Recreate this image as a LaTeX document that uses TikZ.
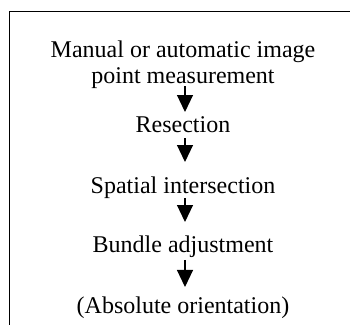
\documentclass[tikz,border=0pt]{standalone}
\usepackage{fontspec}
\setmainfont{Liberation Serif}
\usetikzlibrary{arrows.meta}
\tikzset{
  lbl/.style={inner sep=0pt, outer sep=0pt, anchor=base, font=\fontsize{12}{13}\selectfont, text height=8pt, text depth=2.5pt},
  lbltwo/.style={inner sep=0pt, outer sep=0pt, anchor=base, align=center, font=\fontsize{12}{13}\selectfont},
  arr/.style={line width=0.55pt, -{Triangle[width=8pt,length=8.5pt]}},
  frame/.style={line width=0.65pt}
}
\begin{document}
\begin{tikzpicture}[x=0.5pt,y=-0.5pt]
\useasboundingbox (0,0) rectangle (350,327);
\draw[frame] (9.5,325) -- (9.5,11.5) -- (350,11.5);
\node[lbltwo] (n1) at (183,83) {Manual or automatic image\\point measurement};
\node[lbl] (n2) at (183,133) {Resection};
\node[lbl] (n3) at (183,193) {Spatial intersection};
\node[lbl] (n4) at (183,253) {Bundle adjustment};
\node[lbl] (n5) at (183,314) {(Absolute orientation)};
\draw[arr, shorten <=-1pt, shorten >=2.5pt] ([xshift=1pt]n1.south) -- ([xshift=1pt]n2.north);
\draw[arr, shorten <=0pt, shorten >=7.5pt] ([xshift=1pt]n2.south) -- ([xshift=1pt]n3.north);
\draw[arr, shorten <=0pt, shorten >=7.5pt] ([xshift=1pt]n3.south) -- ([xshift=1pt]n4.north);
\draw[arr, shorten <=1pt, shorten >=5.5pt] ([xshift=1pt]n4.south) -- ([xshift=1pt]n5.north);
\end{tikzpicture}
\end{document}
